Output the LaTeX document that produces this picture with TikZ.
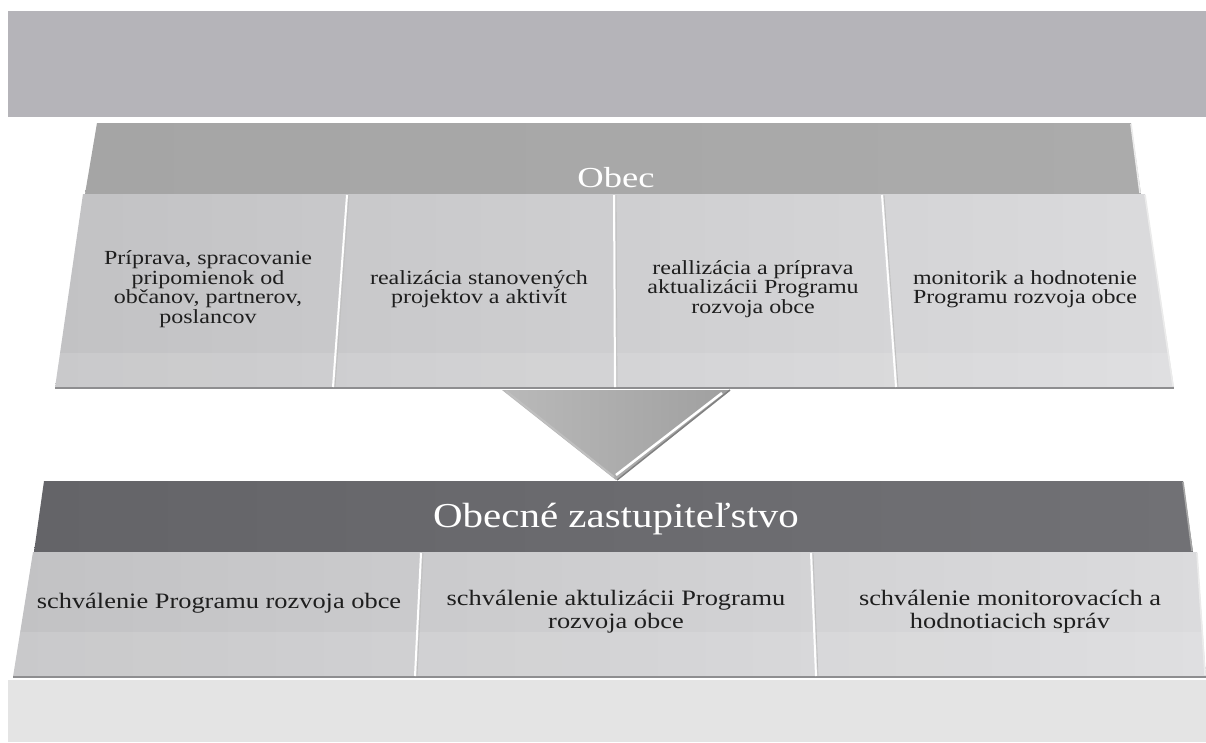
\documentclass[tikz,border=0pt]{standalone}
\usepackage{fontspec}
\setmainfont{Liberation Serif}
\definecolor{topband}{HTML}{B5B4B9}
\definecolor{botband}{HTML}{E4E4E4}
\definecolor{hdrA}{HTML}{A5A5A5}
\definecolor{hdrAr}{HTML}{ABABAB}
\definecolor{hdrB}{HTML}{646468}
\definecolor{hdrBr}{HTML}{717175}
\definecolor{boxL}{HTML}{C2C2C4}
\definecolor{boxR}{HTML}{DBDBDD}
\definecolor{arrowc}{HTML}{A8A8A8}
\definecolor{txt}{HTML}{1E1E1E}
\definecolor{edge}{HTML}{8E8E90}
\begin{document}
\begin{tikzpicture}[x=1pt,y=-1pt,
  boxtext/.style={align=center,text=txt,xscale=1.2,inner sep=0pt,font=\fontsize{20}{19.5}\selectfont},
  lowtext/.style={align=center,text=txt,xscale=1.2,inner sep=0pt,font=\fontsize{22}{23}\selectfont},
  hdrtext/.style={text=white,inner sep=0pt,anchor=base},
  divider/.style={white,line width=2pt},
  divshadow/.style={black!25,line width=0.8pt},
  bottomedge/.style={edge,line width=2.2pt},
  rimlight/.style={white!92!black,line width=1.6pt}]
\useasboundingbox (0,0) rectangle (1206,742);
% background bands
\fill[topband] (8,11) rectangle (1206,117);
\fill[botband] (8,680) rectangle (1206,742);
% arrow
\shade[left color=arrowc!80!white,right color=arrowc!95!black] (502,390) -- (730,390) -- (616,480) -- cycle;
\draw[white!75!black,line width=2pt] (506,391) -- (614,477);
\draw[black!50,line width=1.5pt] (730,390) -- (617,480);
\draw[white,line width=2.5pt] (722,393) -- (616,475);
% upper header
\shade[left color=hdrA,right color=hdrAr] (97,123) -- (1131,123) -- (1141,194) -- (85,194) -- cycle;
\draw[rimlight] (1131,124) -- (1140,193);
\node[hdrtext,font=\fontsize{29}{30}\selectfont,xscale=1.26] (obec) at (616,187) {Obec};
% upper boxes
\shade[left color=boxL,right color=boxR] (83,194) -- (1145,194) -- (1174,388) -- (55,388) -- cycle;
\fill[white,opacity=0.12] (60,353) -- (1169,353) -- (1174,388) -- (55,388) -- cycle;
\draw[bottomedge] (55,388) -- (1174,388);
\draw[rimlight] (1145,195) -- (1173,386);
\draw[divshadow] (349,195) -- (335,387);
\draw[divider] (347,195) -- (333,387);
\draw[divshadow] (616,195) -- (617,387);
\draw[divider] (614,195) -- (615,387);
\draw[divshadow] (884,195) -- (898,387);
\draw[divider] (882,195) -- (896,387);
\node[boxtext] (u1) at (208,289) {Príprava, spracovanie\\pripomienok od\\občanov, partnerov,\\poslancov};
\node[boxtext] (u2) at (479,289) {realizácia stanovených\\projektov a aktivít};
\node[boxtext] (u3) at (753,289) {reallizácia a príprava\\aktualizácii Programu\\rozvoja obce};
\node[boxtext] (u4) at (1025,289) {monitorik a hodnotenie\\Programu rozvoja obce};
% lower header
\shade[left color=hdrB,right color=hdrBr] (44,481) -- (1183,481) -- (1193,552) -- (34,552) -- cycle;
\draw[rimlight,white!65!black] (1183,482) -- (1192,551);
\node[hdrtext,font=\fontsize{35}{36}\selectfont,xscale=1.17] (zast) at (616,527) {Obecné zastupiteľstvo};
% lower boxes
\shade[left color=boxL,right color=boxR] (33,552) -- (1197,552) -- (1206,677) -- (13,677) -- cycle;
\fill[white,opacity=0.12] (20,632) -- (1203,632) -- (1206,677) -- (13,677) -- cycle;
\draw[bottomedge] (13,677) -- (1206,677);
\draw[rimlight] (1197,553) -- (1205,675);
\draw[divshadow] (423,553) -- (417,676);
\draw[divider] (421,553) -- (415,676);
\draw[divshadow] (813,553) -- (818,676);
\draw[divider] (811,553) -- (816,676);
\node[lowtext] (l1) at (219,603) {schválenie Programu rozvoja obce};
\node[lowtext] (l2) at (616,612) {schválenie aktulizácii Programu\\rozvoja obce};
\node[lowtext] (l3) at (1010,612) {schválenie monitorovacích a\\hodnotiacich správ};
\end{tikzpicture}
\end{document}
